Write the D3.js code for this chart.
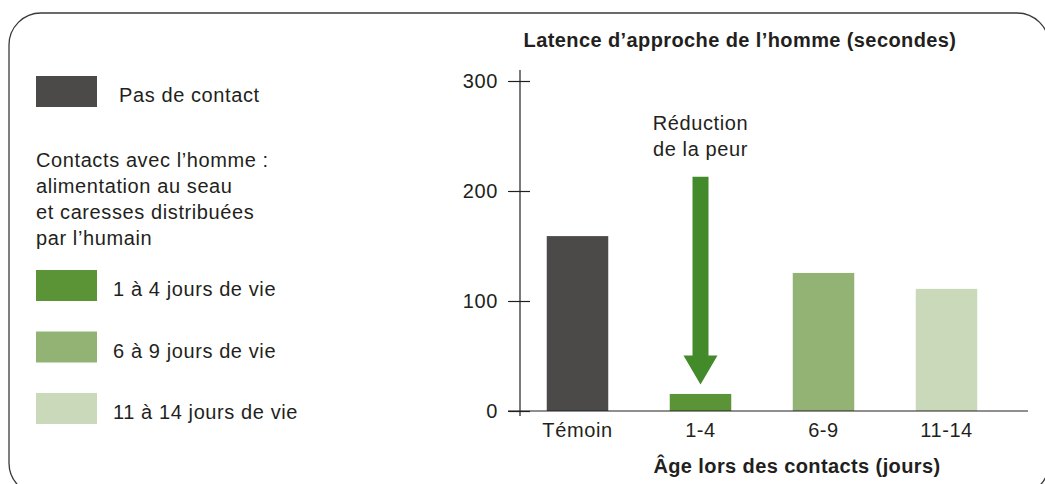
<!DOCTYPE html>
<html>
<head>
<meta charset="utf-8">
<script src="https://cdn.jsdelivr.net/npm/d3@7"></script>
<style>
    body { margin: 0; background: #fff; }
    svg { display: block; }
    text { font-family: "Liberation Sans", Arial, sans-serif; fill: #231f20; letter-spacing: 0.6px; }
</style>
</head>
<body>
<script>
// data
const categories = ["Témoin", "1-4", "6-9", "11-14"];
const latency = [159, 15.5, 125.5, 111];
const barColours = ["#4b4a48", "#5a9436", "#93b374", "#cbd9bb"];
const yTicks = [0, 100, 200, 300];
const arrowFrom = 213;   // arrow top, in seconds
const arrowTo = 24;      // arrow tip, in seconds

const legendMain = "Pas de contact";
const legendIntro = ["Contacts avec l’homme :", "alimentation au seau", "et caresses distribuées", "par l’humain"];
const legendGroups = ["1 à 4 jours de vie", "6 à 9 jours de vie", "11 à 14 jours de vie"];

const width = 1045, height = 484;
const fs = 20;

const svg = d3.select("body").append("svg")
    .attr("width", width)
    .attr("height", height);

// rounded frame
svg.append("rect")
    .attr("x", 9).attr("y", 13)
    .attr("width", 1040).attr("height", 482)
    .attr("rx", 32).attr("ry", 32)
    .attr("fill", "none")
    .attr("stroke", "#3a3a3a")
    .attr("stroke-width", 1.3);

/* chart */
const x = d3.scaleBand()
    .domain(categories)
    .range([516, 1008])
    .paddingInner(0.5)
    .paddingOuter(0.25);

const y = d3.scaleLinear()
    .domain([0, 300])
    .range([411, 81]);

// bars
svg.append("g").selectAll("rect")
    .data(categories)
    .enter()
    .append("rect")
    .attr("x", d => x(d))
    .attr("width", x.bandwidth())
    .attr("y", (d, i) => y(latency[i]))
    .attr("height", (d, i) => y(0) - y(latency[i]))
    .attr("fill", (d, i) => barColours[i]);

// y axis
const yAxis = svg.append("g")
    .attr("transform", `translate(520,0)`)
    .call(d3.axisLeft(y).tickValues(yTicks).tickSize(0).tickPadding(22));
yAxis.select(".domain").remove();
yAxis.append("line")
    .attr("x1", 0).attr("x2", 0)
    .attr("y1", y(300) - 11).attr("y2", y(0) + 5)
    .attr("stroke", "#231f20").attr("stroke-width", 1.2);
yAxis.selectAll(".tick").append("line")
    .attr("x1", -12).attr("x2", 10)
    .attr("stroke", "#231f20").attr("stroke-width", 1.2);
yAxis.selectAll(".tick text")
    .attr("font-size", fs)
    .attr("fill", "#231f20")
    .attr("font-family", "Liberation Sans, Arial, sans-serif");

// x axis
const xAxis = svg.append("g")
    .attr("transform", `translate(0,${y(0)})`)
    .call(d3.axisBottom(x).tickSize(0).tickPadding(12));
xAxis.select(".domain").remove();
xAxis.append("line")
    .attr("x1", 508).attr("x2", 1028)
    .attr("stroke", "#231f20").attr("stroke-width", 1.2);
xAxis.selectAll(".tick text")
    .attr("font-size", fs)
    .attr("fill", "#231f20")
    .attr("font-family", "Liberation Sans, Arial, sans-serif");

// titles
svg.append("text")
    .attr("x", 740).attr("y", 47)
    .attr("text-anchor", "middle")
    .attr("font-size", fs)
    .attr("font-weight", "bold")
    .style("letter-spacing", "0.4px")
    .text("Latence d’approche de l’homme (secondes)");

svg.append("text")
    .attr("x", 797).attr("y", 473)
    .attr("text-anchor", "middle")
    .attr("font-size", fs)
    .attr("font-weight", "bold")
    .style("letter-spacing", "0.4px")
    .text("Âge lors des contacts (jours)");

// arrow
const ax = x("1-4") + x.bandwidth() / 2;
const headLen = 29;
const arrow = d3.path();
arrow.moveTo(ax - 8, y(arrowFrom));
arrow.lineTo(ax + 8, y(arrowFrom));
arrow.lineTo(ax + 8, y(arrowTo) - headLen);
arrow.lineTo(ax + 17, y(arrowTo) - headLen);
arrow.lineTo(ax, y(arrowTo));
arrow.lineTo(ax - 17, y(arrowTo) - headLen);
arrow.lineTo(ax - 8, y(arrowTo) - headLen);
arrow.closePath();
svg.append("path")
    .attr("d", arrow.toString())
    .attr("fill", "#438a2b");

svg.append("text")
    .attr("x", ax).attr("y", 130)
    .attr("text-anchor", "middle")
    .attr("font-size", fs)
    .text("Réduction");
svg.append("text")
    .attr("x", ax).attr("y", 156)
    .attr("text-anchor", "middle")
    .attr("font-size", fs)
    .text("de la peur");

/* legend */
const legend = svg.append("g");

legend.append("rect")
    .attr("x", 36).attr("y", 76)
    .attr("width", 61).attr("height", 31)
    .attr("fill", barColours[0]);
legend.append("text")
    .attr("x", 119).attr("y", 102)
    .attr("font-size", fs)
    .text(legendMain);

legend.selectAll(".intro")
    .data(legendIntro)
    .enter()
    .append("text")
    .attr("class", "intro")
    .attr("x", 36)
    .attr("y", (d, i) => 167 + i * 26)
    .attr("font-size", fs)
    .text(d => d);

const rows = legend.selectAll(".row")
    .data(legendGroups)
    .enter()
    .append("g")
    .attr("class", "row")
    .attr("transform", (d, i) => `translate(36,${270 + i * 61.5})`);
rows.append("rect")
    .attr("width", 61).attr("height", 31)
    .attr("fill", (d, i) => barColours[i + 1]);
rows.append("text")
    .attr("x", 77).attr("y", 26)
    .attr("font-size", fs)
    .text(d => d);
</script>
</body>
</html>
